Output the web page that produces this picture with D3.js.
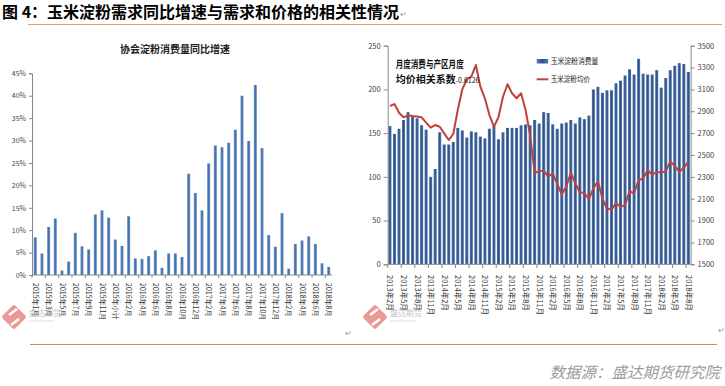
<!DOCTYPE html>
<html>
<head>
<meta charset="utf-8">
<script src="https://cdn.jsdelivr.net/npm/d3@7"></script>
<style>
  body { margin: 0; background: #fff; }
  svg { display: block; }
  text { font-family: "Noto Sans CJK SC", "Liberation Sans", sans-serif; }
</style>
</head>
<body>
<svg id="chart" width="725" height="386"></svg>
<script>
// left chart: yoy growth of starch consumption
var yoyCats = [];
for (var m = 1; m <= 12; m++) yoyCats.push('2015年' + m + '月');
yoyCats.push('2015年小计');
for (var m = 1; m <= 12; m++) yoyCats.push('2016年' + m + '月');
for (var m = 1; m <= 12; m++) yoyCats.push('2017年' + m + '月');
for (var m = 1; m <= 8; m++) yoyCats.push('2018年' + m + '月');

var yoyValues = [8.4, 4.8, 10.7, 12.6, 1.0, 3.0, 9.4, 6.4, 5.7, 13.5, 14.4, 12.8, 7.9,
  6.5, 13.1, 3.7, 3.6, 4.2, 5.5, 1.6, 4.8, 4.8, 4.0, 22.6, 18.3,
  14.4, 24.9, 28.9, 28.5, 29.5, 32.4, 40.0, 29.9, 42.4, 28.3, 8.9, 6.3,
  13.8, 1.4, 6.9, 7.7, 8.6, 6.9, 2.6, 1.8];
var yoyTicks = [0, 5, 10, 15, 20, 25, 30, 35, 40, 45];

// right chart: monthly consumption vs price
var monthCats = [];
for (var y = 2013; y <= 2018; y++) {
  for (var m = 1; m <= 12; m++) {
    if (y == 2013 && m < 2) continue;
    if (y == 2018 && m > 8) continue;
    monthCats.push(y + '年' + m + '月');
  }
}
var consumption = [158, 149, 155, 165, 174, 169, 167, 159, 154, 100, 109,
  151, 137, 137, 140, 156, 153, 145, 152, 151, 146, 144, 155, 158,
  143, 151, 156, 156, 156, 159, 160, 159, 165, 161, 174, 173,
  160, 155, 161, 162, 165, 161, 168, 166, 170, 200, 203, 196,
  199, 199, 207, 210, 216, 223, 217, 235, 218, 217, 217, 222,
  202, 213, 222, 227, 230, 229, 220];
var price = [2948, 2966, 2887, 2845, 2863, 2857, 2853, 2845, 2796, 2750, 2774,
  2759, 2698, 2637, 2692, 2912, 3101, 3193, 3217, 3323, 3125, 3019, 2866, 2759,
  2845, 3033, 3147, 3065, 3019, 3065, 2912, 2683, 2338, 2351, 2357, 2302,
  2332, 2235, 2140, 2210, 2338, 2241, 2158, 2155, 2097, 2195, 2260, 2100,
  2010, 2000, 2060, 2025, 2040, 2170, 2150, 2270, 2285, 2360, 2320, 2345,
  2340, 2350, 2440, 2400, 2345, 2385, 2440];
var leftTicks = [0, 50, 100, 150, 200, 250];
var rightTicks = [1500, 1700, 1900, 2100, 2300, 2500, 2700, 2900, 3100, 3300, 3500];

var svg = d3.select('#chart');
svg.append('rect').attr('width', 725).attr('height', 386).attr('fill', '#fff');

var defs = svg.append('defs');
function barGrad(id, edge, mid) {
  var g = defs.append('linearGradient').attr('id', id).attr('x1', 0).attr('x2', 1).attr('y1', 0).attr('y2', 0);
  g.append('stop').attr('offset', '0%').attr('stop-color', edge);
  g.append('stop').attr('offset', '50%').attr('stop-color', mid);
  g.append('stop').attr('offset', '100%').attr('stop-color', edge);
}
barGrad('gLeft', '#7096c8', '#3f6ca8');
barGrad('gRight', '#5a7fb2', '#2c4f86');

// heading
svg.append('text').attr('x', 2).attr('y', 17.5)
  .attr('font-size', 16).attr('font-weight', 'bold').attr('fill', '#000')
  .text('图 4：玉米淀粉需求同比增速与需求和价格的相关性情况');
svg.append('text').attr('x', 400).attr('y', 17).attr('font-size', 8).attr('fill', '#999').text('↵');

svg.append('line').attr('x1', 28).attr('x2', 722).attr('y1', 24.5).attr('y2', 24.5)
  .attr('stroke', '#d9a860').attr('stroke-width', 1.2);
svg.append('line').attr('x1', 30).attr('x2', 717).attr('y1', 344.5).attr('y2', 344.5)
  .attr('stroke', '#c9924a').attr('stroke-width', 1.2);

svg.append('text').attr('x', 720).attr('y', 378).attr('text-anchor', 'end')
  .attr('font-size', 15.5).attr('font-style', 'italic').attr('fill', '#9c9c9c')
  .text('数据源：盛达期货研究院');

// ---- left chart ----
var x1 = d3.scaleBand().domain(yoyCats).range([32, 332]).paddingInner(0.55).paddingOuter(0.27);
var y1 = d3.scaleLinear().domain([0, 45]).range([275, 73.3]);

svg.append('text').attr('x', 175).attr('y', 52.5).attr('text-anchor', 'middle')
  .attr('font-size', 10).attr('font-weight', 'bold').attr('fill', '#222')
  .text('协会淀粉消费量同比增速');

svg.append('g').selectAll('rect').data(yoyValues).join('rect')
  .attr('x', function(d, i) { return x1(yoyCats[i]); })
  .attr('width', x1.bandwidth())
  .attr('y', function(d) { return y1(d); })
  .attr('height', function(d) { return y1(0) - y1(d); })
  .attr('fill', 'url(#gLeft)');

var ax1 = svg.append('g').attr('transform', 'translate(32,0)')
  .call(d3.axisLeft(y1).tickValues(yoyTicks).tickSize(3).tickFormat(function(d) { return d + '%'; }));
ax1.select('.domain').attr('stroke', '#888');
ax1.selectAll('.tick line').attr('stroke', '#888');
ax1.selectAll('.tick text').attr('font-size', 7).attr('fill', '#444').attr('font-family', 'Liberation Sans, sans-serif');

var step1 = x1.step();
svg.append('line').attr('x1', 32).attr('x2', 332).attr('y1', 275).attr('y2', 275).attr('stroke', '#888');
svg.append('g').selectAll('line').data(d3.range(0, 46, 2)).join('line')
  .attr('x1', function(d) { return 32 + d * step1; })
  .attr('x2', function(d) { return 32 + d * step1; })
  .attr('y1', 275).attr('y2', 278).attr('stroke', '#888');

svg.append('g').selectAll('text').data(yoyCats.filter(function(d, i) { return i % 2 == 0; })).join('text')
  .attr('transform', function(d) { return 'translate(' + (x1(d) + x1.bandwidth() / 2 - 0.5) + ',283) rotate(90)'; })
  .attr('dominant-baseline', 'middle')
  .attr('font-size', 7).attr('fill', '#333')
  .text(function(d) { return d; });

// ---- right chart ----
var x2 = d3.scaleBand().domain(monthCats).range([387.7, 690.6]).paddingInner(0.32).paddingOuter(0.16);
var yL = d3.scaleLinear().domain([0, 250]).range([264.3, 45.7]);
var yR = d3.scaleLinear().domain([1500, 3500]).range([264.3, 45.7]);

svg.append('g').selectAll('rect').data(consumption).join('rect')
  .attr('x', function(d, i) { return x2(monthCats[i]); })
  .attr('width', x2.bandwidth())
  .attr('y', function(d) { return yL(d); })
  .attr('height', function(d) { return yL(0) - yL(d); })
  .attr('fill', 'url(#gRight)');

var line = d3.line()
  .x(function(d, i) { return x2(monthCats[i]) + x2.bandwidth() / 2; })
  .y(function(d) { return yR(d); });
svg.append('path').datum(price).attr('d', line)
  .attr('fill', 'none').attr('stroke', '#c0403c').attr('stroke-width', 2).attr('stroke-linejoin', 'round');

var axL = svg.append('g').attr('transform', 'translate(387.7,0)')
  .call(d3.axisLeft(yL).tickValues(leftTicks).tickSize(4).tickFormat(d3.format('d')));
var axR = svg.append('g').attr('transform', 'translate(690.6,0)')
  .call(d3.axisRight(yR).tickValues(rightTicks).tickSize(4).tickFormat(d3.format('d')));
[axL, axR].forEach(function(a) {
  a.select('.domain').attr('stroke', '#888');
  a.selectAll('.tick line').attr('stroke', '#888');
  a.selectAll('.tick text').attr('font-size', 7.5).attr('fill', '#444').attr('font-family', 'Liberation Sans, sans-serif');
});

var step2 = x2.step();
svg.append('line').attr('x1', 387.7).attr('x2', 690.6).attr('y1', 264.3).attr('y2', 264.3).attr('stroke', '#888');
svg.append('g').selectAll('line').data(d3.range(0, 68, 3)).join('line')
  .attr('x1', function(d) { return 387.7 + d * step2; })
  .attr('x2', function(d) { return 387.7 + d * step2; })
  .attr('y1', 264.3).attr('y2', 268).attr('stroke', '#888');

svg.append('g').selectAll('text').data(monthCats.filter(function(d, i) { return i % 3 == 0; })).join('text')
  .attr('transform', function(d) { return 'translate(' + (x2(d) + x2.bandwidth() / 2 - 0.5) + ',275) rotate(90)'; })
  .attr('dominant-baseline', 'middle')
  .attr('font-size', 7.5).attr('fill', '#333')
  .text(function(d) { return d; });

// note on correlation
svg.append('text').attr('x', 395.7).attr('y', 68)
  .attr('font-size', 10).attr('font-weight', 'bold').attr('fill', '#111')
  .attr('textLength', 68).attr('lengthAdjust', 'spacingAndGlyphs')
  .text('月度消费与产区月度');
var note2 = svg.append('text').attr('x', 395.7).attr('y', 83)
  .attr('font-weight', 'bold').attr('fill', '#111');
note2.append('tspan').attr('font-size', 10).text('均价相关系数');
note2.append('tspan').attr('font-size', 7).attr('font-weight', 'normal').text('-0.6126');

// legend
svg.append('rect').attr('x', 536.7).attr('y', 59).attr('width', 11.5).attr('height', 4.5).attr('fill', 'url(#gRight)');
svg.append('text').attr('x', 550.7).attr('y', 64).attr('font-size', 7.5).attr('fill', '#222')
  .attr('textLength', 47.6).attr('lengthAdjust', 'spacingAndGlyphs').text('玉米淀粉消费量');
svg.append('line').attr('x1', 536.7).attr('x2', 548.3).attr('y1', 79.3).attr('y2', 79.3).attr('stroke', '#c0403c').attr('stroke-width', 2);
svg.append('text').attr('x', 550.7).attr('y', 82.3).attr('font-size', 7.5).attr('fill', '#222')
  .attr('textLength', 39.3).attr('lengthAdjust', 'spacingAndGlyphs').text('玉米淀粉均价');

// faint logos
function logo(cx, cy) {
  var g = svg.append('g').attr('opacity', 0.7);
  g.append('rect').attr('x', -9).attr('y', -9).attr('width', 18).attr('height', 18).attr('rx', 2)
    .attr('transform', 'translate(' + cx + ',' + cy + ') rotate(45)').attr('fill', '#e0706c');
  g.append('path').attr('d', 'M' + (cx - 5) + ',' + (cy - 2) + ' L' + (cx + 3) + ',' + (cy - 8)
      + ' M' + (cx - 3) + ',' + (cy + 8) + ' L' + (cx + 5) + ',' + (cy + 2))
    .attr('stroke', '#fff').attr('stroke-width', 2.5).attr('fill', 'none');
  g.append('text').attr('x', cx + 15).attr('y', cy - 1).attr('font-size', 8).attr('fill', '#aaa').text('盛达期货');
  g.append('text').attr('x', cx + 15).attr('y', cy + 5).attr('font-size', 3).attr('fill', '#bbb').text('www.sdfutures.cn');
}
logo(14, 317);
logo(375, 317);

svg.append('text').attr('x', 345).attr('y', 336).attr('font-size', 8).attr('fill', '#999').text('↵');
svg.append('text').attr('x', 718).attr('y', 333).attr('font-size', 8).attr('fill', '#999').text('↵');
</script>
</body>
</html>
